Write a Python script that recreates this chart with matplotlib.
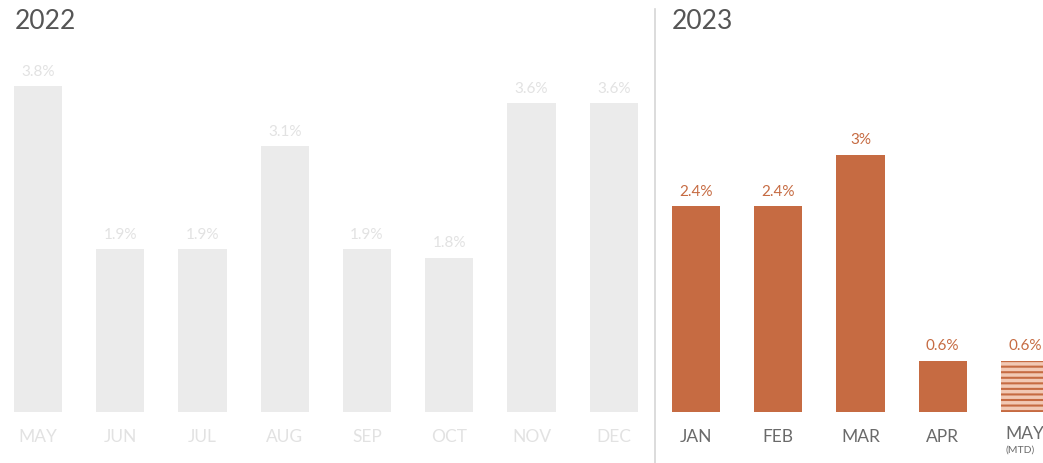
import numpy as np
import matplotlib.pyplot as plt

plt.rcParams['font.family'] = ['Lato', 'DejaVu Sans']
plt.rcParams['hatch.linewidth'] = 2.5

# data
months_2022 = ["MAY", "JUN", "JUL", "AUG", "SEP", "OCT", "NOV", "DEC"]
values_2022 = [3.8, 1.9, 1.9, 3.1, 1.9, 1.8, 3.6, 3.6]
months_2023 = ["JAN", "FEB", "MAR", "APR", "MAY"]
values_2023 = [2.4, 2.4, 3.0, 0.6, 0.6]
mtd_flags = [False, False, False, False, True]

GREY_BAR = "#ebebeb"
GREY_TEXT = "#e2e2e2"
ORANGE = "#c66b42"
DARK_TEXT = "#6a6a6a"

fig = plt.figure(figsize=(10.43, 4.64), dpi=100)
ax = fig.add_axes([0, 0, 1, 1])
ax.axis("off")

# pixel layout: first bar centre at 38px, 82.25px spacing, baseline at 413px
px_per_unit = 82.25
px_per_pct = 85.7
ax.set_xlim(-38 / px_per_unit, (1043 - 38) / px_per_unit)
ax.set_ylim(-(464 - 413) / px_per_pct, 413 / px_per_pct)

x22 = np.arange(len(months_2022))
x23 = np.arange(len(months_2023)) + len(months_2022)
width = 0.585

ax.bar(x22, values_2022, width=width, color=GREY_BAR)
for x, v, m in zip(x22, values_2022, months_2022):
    ax.text(x, v + 0.1, f"{v:g}%", ha="center", va="bottom",
            color=GREY_TEXT, fontsize=11)
    ax.text(x, -0.28, m, ha="center", va="center", color=GREY_TEXT, fontsize=12.5)

for x, v, m, mtd in zip(x23, values_2023, months_2023, mtd_flags):
    if mtd:
        ax.bar(x, v, width=width, color=ORANGE, edgecolor="#f2c9b4",
               linewidth=0, hatch="---")
        # label starts at the bar's left edge and runs off the figure
        ax.text(x - 0.24, -0.24, m, ha="left", va="center", color=DARK_TEXT,
                fontsize=12.5)
        ax.text(x - 0.24, -0.43, "(MTD)", ha="left", va="center", color=DARK_TEXT,
                fontsize=7.5)
    else:
        ax.bar(x, v, width=width, color=ORANGE)
        ax.text(x, -0.28, m, ha="center", va="center", color=DARK_TEXT, fontsize=12.5)
    ax.text(x, v + 0.1, f"{v:g}%", ha="center", va="bottom",
            color=ORANGE, fontsize=11)

# divider between the years
ax.axvline(len(months_2022) - 0.5, ymin=0, ymax=(464 - 10) / 464,
           color="#d6d6d6", linewidth=1.2)

fig.text(15 / 1043, 1 - 9 / 464, "2022", ha="left", va="top",
         color="#555555", fontsize=19)
fig.text(672 / 1043, 1 - 9 / 464, "2023", ha="left", va="top",
         color="#555555", fontsize=19)

fig.savefig("out.png", dpi=100)
